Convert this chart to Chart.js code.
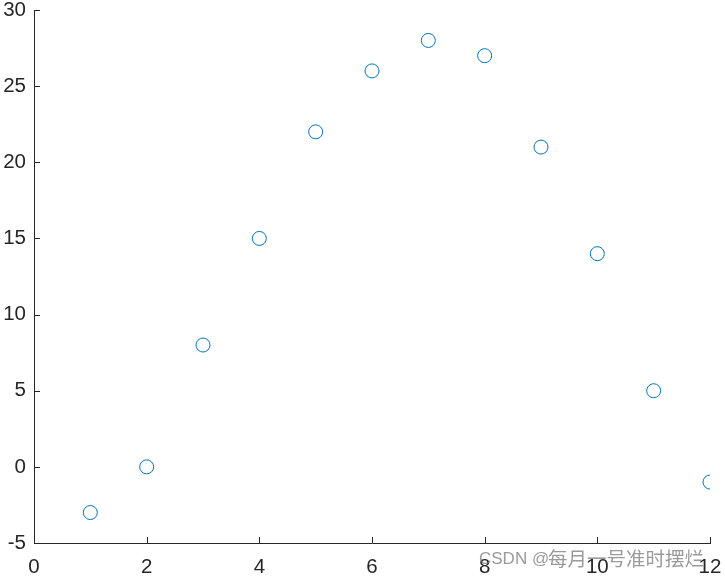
<!DOCTYPE html>
<html>
<head>
<meta charset="utf-8">
<script src="https://cdn.jsdelivr.net/npm/chart.js@4"></script>
<style>
  html, body { margin: 0; padding: 0; background: #fff; }
  #wrap { width: 725px; height: 577px; position: relative; }
</style>
</head>
<body>
<div id="wrap"><canvas id="chartCanvas" width="725" height="577"></canvas></div>
<script>
const xValores = [1, 2, 3, 4, 5, 6, 7, 8, 9, 10, 11, 12];
const yValores = [-3, 0, 8, 15, 22, 26, 28, 27, 21, 14, 5, -1];
const xTicks = [0, 2, 4, 6, 8, 10, 12];
const yTicks = [-5, 0, 5, 10, 15, 20, 25, 30];
const marcaLatim = "CSDN @";
const marcaCJK = "每月一号准时摆烂";

const COR_EIXO = "#262626";
const COR_PONTO = "#0072BD";

// ticks para dentro, estilo matlab
const ticksDentro = {
  id: "ticksDentro",
  afterDraw(chart) {
    const ctx = chart.ctx;
    const xs = chart.scales.x, ys = chart.scales.y;
    const a = chart.chartArea;
    ctx.save();
    ctx.strokeStyle = COR_EIXO;
    ctx.lineWidth = 1;
    ctx.beginPath();
    xTicks.forEach(function(v) {
      const px = Math.round(xs.getPixelForValue(v)) + 0.5;
      ctx.moveTo(px, a.bottom);
      ctx.lineTo(px, a.bottom - 6);
    });
    yTicks.forEach(function(v) {
      const py = Math.round(ys.getPixelForValue(v)) + 0.5;
      ctx.moveTo(a.left, py);
      ctx.lineTo(a.left + 6, py);
    });
    ctx.stroke();
    // marca de agua
    ctx.fillStyle = "rgba(120,120,120,0.75)";
    ctx.textAlign = "left";
    ctx.textBaseline = "middle";
    ctx.font = '17px "Liberation Sans", sans-serif';
    ctx.fillText(marcaLatim, 479, 559);
    ctx.font = '19.5px "Noto Sans CJK SC", sans-serif';
    ctx.fillText(marcaCJK, 548, 559);
    ctx.restore();
  }
};

const fonteTicks = { family: '"Liberation Sans", Arial, sans-serif', size: 20.5 };

new Chart(document.getElementById("chartCanvas"), {
  type: "scatter",
  data: {
    datasets: [{
      data: xValores.map(function(x, i) { return { x: x, y: yValores[i] }; }),
      pointStyle: "circle",
      pointRadius: 7,
      pointHoverRadius: 7,
      backgroundColor: "rgba(0,0,0,0)",
      borderColor: COR_PONTO,
      borderWidth: 1
    }]
  },
  options: {
    responsive: false,
    animation: false,
    layout: { padding: { top: 10, right: 15, left: 0, bottom: 0 } },
    plugins: { legend: { display: false }, tooltip: { enabled: false } },
    scales: {
      x: {
        type: "linear",
        min: 0, max: 12,
        afterBuildTicks: function(s) { s.ticks = xTicks.map(function(v) { return { value: v }; }); },
        grid: { display: false, drawTicks: false, tickLength: 0 },
        border: { display: true, color: COR_EIXO, width: 1 },
        ticks: { color: COR_EIXO, font: fonteTicks, padding: 12, maxRotation: 0, autoSkip: false },
        afterFit: function(s) { s.height = 34; s.paddingLeft = 0; s.paddingRight = 0; }
      },
      y: {
        type: "linear",
        min: -5, max: 30,
        afterBuildTicks: function(s) { s.ticks = yTicks.map(function(v) { return { value: v }; }); },
        grid: { display: false, drawTicks: false, tickLength: 0 },
        border: { display: true, color: COR_EIXO, width: 1 },
        ticks: { color: COR_EIXO, font: fonteTicks, padding: 8, autoSkip: false },
        afterFit: function(s) { s.width = 34; s.paddingTop = 0; s.paddingBottom = 0; }
      }
    }
  },
  plugins: [ticksDentro]
});
</script>
</body>
</html>
